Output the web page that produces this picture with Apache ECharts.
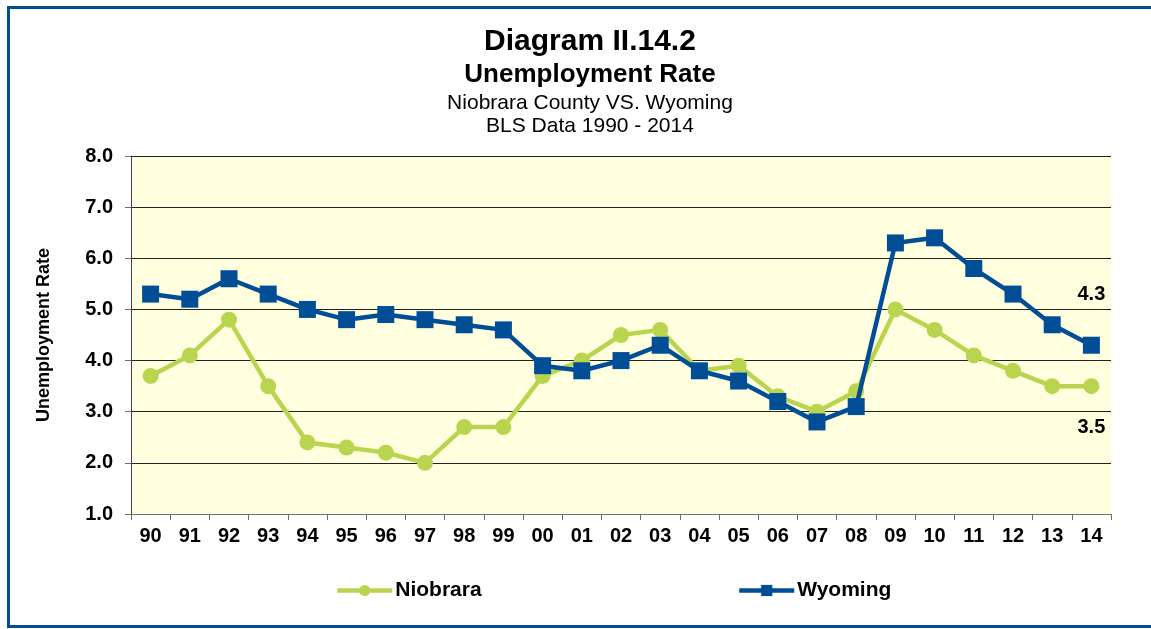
<!DOCTYPE html>
<html>
<head>
<meta charset="utf-8">
<script src="https://cdn.jsdelivr.net/npm/echarts@6/dist/echarts.min.js"></script>
<style>
  html, body { margin: 0; padding: 0; background: #fff; }
  #main { width: 1151px; height: 629px; }
</style>
</head>
<body>
<div id="main"></div>
<script>
var years = ['90','91','92','93','94','95','96','97','98','99','00','01','02','03','04','05','06','07','08','09','10','11','12','13','14'];
var niobrara = [3.7, 4.1, 4.8, 3.5, 2.4, 2.3, 2.2, 2.0, 2.7, 2.7, 3.7, 4.0, 4.5, 4.6, 3.8, 3.9, 3.3, 3.0, 3.4, 5.0, 4.6, 4.1, 3.8, 3.5, 3.5];
var wyoming = [5.3, 5.2, 5.6, 5.3, 5.0, 4.8, 4.9, 4.8, 4.7, 4.6, 3.9, 3.8, 4.0, 4.3, 3.8, 3.6, 3.2, 2.8, 3.1, 6.3, 6.4, 5.8, 5.3, 4.7, 4.3];
var titleLines = ['Diagram II.14.2', 'Unemployment Rate', 'Niobrara County VS. Wyoming', 'BLS Data 1990 - 2014'];

var font = 'Liberation Sans, Arial, sans-serif';
var green = '#b9d54f';
var blue = '#014d96';

// only the last point of each series carries a label
function lastLabelled(arr, pos, dist) {
  return arr.map(function (v, i) {
    if (i < arr.length - 1) return v;
    return { value: v, label: { show: true, position: pos, distance: dist,
      formatter: function (p) { return p.value.toFixed(1); },
      fontFamily: font, fontWeight: 'bold', fontSize: 20, color: '#000' } };
  });
}

var myChart = echarts.init(document.getElementById('main'));
myChart.setOption({
  animation: false,
  backgroundColor: '#fff',
  graphic: [
    { type: 'rect', shape: { x: 8.5, y: 7.5, width: 1170, height: 619 },
      style: { fill: 'none', stroke: blue, lineWidth: 3 }, z: 10 },
    { type: 'text', x: 590, y: 42, style: { text: titleLines[0], textAlign: 'center', textVerticalAlign: 'middle',
      font: 'bold 30px ' + font, fill: '#000' } },
    { type: 'text', x: 590, y: 75, style: { text: titleLines[1], textAlign: 'center', textVerticalAlign: 'middle',
      font: 'bold 26px ' + font, fill: '#000' } },
    { type: 'text', x: 590, y: 103, style: { text: titleLines[2], textAlign: 'center', textVerticalAlign: 'middle',
      font: '21px ' + font, fill: '#000' } },
    { type: 'text', x: 590, y: 126, style: { text: titleLines[3], textAlign: 'center', textVerticalAlign: 'middle',
      font: '21px ' + font, fill: '#000' } }
  ],
  grid: { left: 131, right: 40, top: 156, bottom: 115, show: true, backgroundColor: '#ffffe0', borderWidth: 0 },
  legend: [
    { data: ['Niobrara'], left: 335, top: 580, padding: 0, itemWidth: 55, itemHeight: 14, itemGap: 4,
      lineStyle: { width: 4.5 },
      textStyle: { fontFamily: font, fontWeight: 'bold', fontSize: 21, color: '#000', padding: [0, 0, 0, -2] } },
    { data: ['Wyoming'], left: 737, top: 580, padding: 0, itemWidth: 55, itemHeight: 14, itemGap: 4,
      lineStyle: { width: 4.5 },
      textStyle: { fontFamily: font, fontWeight: 'bold', fontSize: 21, color: '#000', padding: [0, 0, 0, -2] } }
  ],
  xAxis: {
    type: 'category',
    data: years,
    boundaryGap: true,
    axisLine: { lineStyle: { color: '#6e6e6e', width: 1 } },
    axisTick: { show: true, length: 6, lineStyle: { color: '#6e6e6e' } },
    axisLabel: { fontFamily: font, fontWeight: 'bold', fontSize: 20, color: '#000', margin: 12 }
  },
  yAxis: {
    type: 'value',
    min: 1, max: 8, interval: 1,
    name: 'Unemployment Rate',
    nameLocation: 'middle',
    nameGap: 78,
    nameTextStyle: { fontFamily: font, fontWeight: 'bold', fontSize: 18, color: '#000' },
    axisLine: { show: true, lineStyle: { color: '#444', width: 1 } },
    axisTick: { show: true, length: 6, lineStyle: { color: '#6e6e6e' } },
    axisLabel: { fontFamily: font, fontWeight: 'bold', fontSize: 20, color: '#000', margin: 18,
      formatter: function (v) { return v.toFixed(1); } },
    splitLine: { show: true, lineStyle: { color: '#222', width: 1 } }
  },
  series: [
    {
      name: 'Niobrara',
      type: 'line',
      data: lastLabelled(niobrara, 'bottom', 23),
      symbol: 'circle',
      symbolSize: 16,
      itemStyle: { color: green },
      lineStyle: { color: green, width: 4.5 },
      z: 2
    },
    {
      name: 'Wyoming',
      type: 'line',
      data: lastLabelled(wyoming, 'top', 32),
      symbol: 'rect',
      symbolSize: 17,
      itemStyle: { color: blue },
      lineStyle: { color: blue, width: 4.5 },
      z: 3
    }
  ]
});
</script>
</body>
</html>
